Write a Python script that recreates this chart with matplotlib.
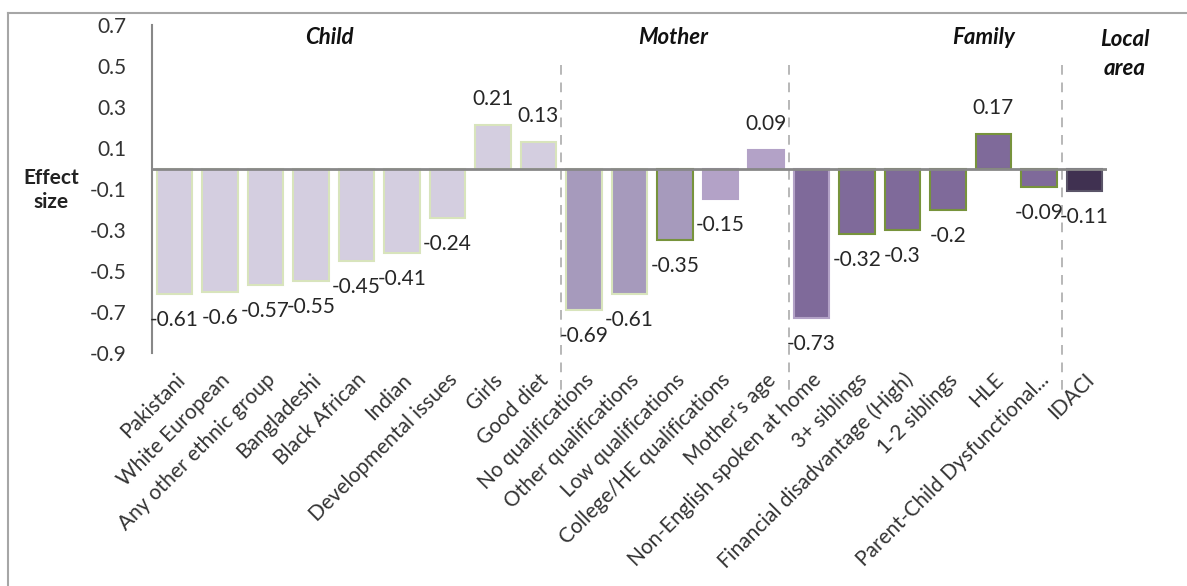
import matplotlib
matplotlib.use("Agg")
import matplotlib.pyplot as plt
from matplotlib.lines import Line2D

plt.rcParams["font.family"] = ["Lato", "DejaVu Sans"]
plt.rcParams["axes.unicode_minus"] = False

categories = ["Pakistani", "White European", "Any other ethnic group", "Bangladeshi",
              "Black African", "Indian", "Developmental issues", "Girls", "Good diet",
              "No qualifications", "Other qualifications", "Low qualifications",
              "College/HE qualifications", "Mother's age", "Non-English spoken at home",
              "3+ siblings", "Financial disadvantage (High)", "1-2 siblings", "HLE",
              "Parent-Child Dysfunctional...", "IDACI"]
effect = [-0.61, -0.6, -0.57, -0.55, -0.45, -0.41, -0.24, 0.21, 0.13,
          -0.69, -0.61, -0.35, -0.15, 0.09,
          -0.73, -0.32, -0.3, -0.2, 0.17, -0.09,
          -0.11]
group_names = ["Child", "Mother", "Family", "Local\narea"]
group_sizes = [9, 5, 6, 1]

# bar styling, one entry per bar
fills = ["#D4CEE0"] * 9 + ["#A69ABC"] * 3 + ["#B3A2C7"] * 2 + ["#7F6A9A"] * 6 + ["#403151"]
edges = (["#D8E4BC"] * 9 + ["#D8E4BC", "#D8E4BC", "#77933C", "#B3A2C7", "#B3A2C7"]
         + ["#B3A2C7"] + ["#77933C"] * 5 + ["#5A5468"])

W, H = 1187, 586
fig = plt.figure(figsize=(W / 100, H / 100), dpi=100)
ax = fig.add_axes([151.7 / W, 1 - 353 / H, (1107 - 151.7) / W, (353 - 25) / H])

x = list(range(len(categories)))
ax.bar(x, effect, width=0.78, color=fills, edgecolor=edges, linewidth=1.5, zorder=2)

ax.set_xlim(-0.5, len(categories) - 0.5)
ax.set_ylim(-0.9, 0.7)
ax.set_yticks([0.7, 0.5, 0.3, 0.1, -0.1, -0.3, -0.5, -0.7, -0.9])
ax.set_yticklabels([f"{t:g}" for t in [0.7, 0.5, 0.3, 0.1, -0.1, -0.3, -0.5, -0.7, -0.9]])
ax.tick_params(axis="y", length=0, pad=18, labelsize=15, labelcolor="#333333")

ax.set_xticks(x)
ax.set_xticklabels(categories, rotation=45, ha="right", va="top",
                   rotation_mode="anchor", fontsize=15, color="#333333")
ax.tick_params(axis="x", length=0, pad=12)

for s in ["top", "right", "bottom"]:
    ax.spines[s].set_visible(False)
ax.spines["left"].set_color("#888888")
ax.spines["left"].set_linewidth(1.5)
ax.axhline(0, color="#888888", linewidth=2, zorder=3)

# value labels
for xi, v in zip(x, effect):
    off = 26 if v > 0 else -26
    ax.annotate(f"{v:g}", (xi, v), xytext=(0, off), textcoords="offset pixels",
                ha="center", va="center", fontsize=15, color="#262626")

# dashed separators between groups
edge = -0.5
for size in group_sizes[:-1]:
    edge += size
    ax.plot([edge, edge], [0.505, -1.105], linestyle=(0, (5, 4)), color="#B8B8B8",
            linewidth=1.4, clip_on=False, zorder=1)

# group titles
title_x = [329, 673, 984, 1125]
title_y = [38, 38, 38, 54]
for name, tx, ty in zip(group_names, title_x, title_y):
    fig.text(tx / W, 1 - ty / H, name, ha="center", va="center", fontsize=16,
             fontweight="bold", fontstyle="italic", linespacing=1.45, color="#111111")

fig.text(51 / W, 1 - 190 / H, "Effect\nsize", ha="center", va="center",
         fontsize=15, fontweight="bold", color="#222222", linespacing=1.3)

# outer chart border
fig.add_artist(Line2D([8 / W, 8 / W], [0, 1 - 13 / H], color="#A6A6A6", linewidth=1.5))
fig.add_artist(Line2D([8 / W, 1], [1 - 13 / H, 1 - 13 / H], color="#A6A6A6", linewidth=1.5))

fig.savefig("out.png", dpi=100)
